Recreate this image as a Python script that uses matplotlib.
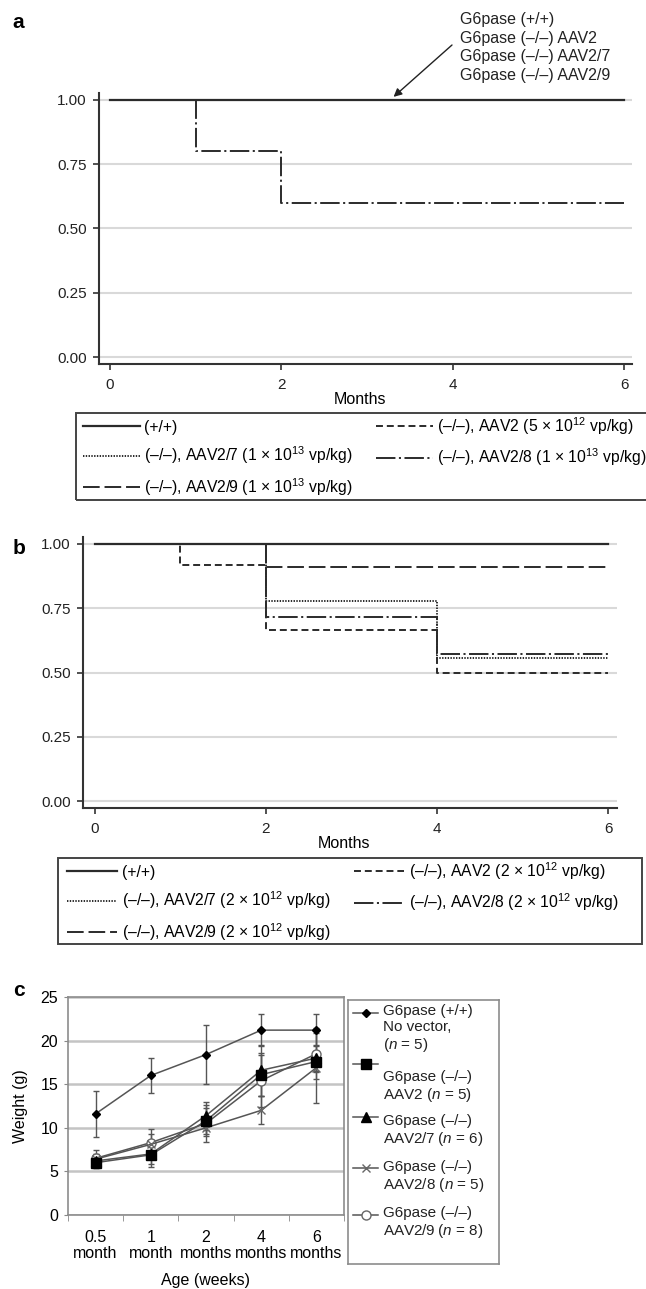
import matplotlib
matplotlib.use("Agg")
import matplotlib.pyplot as plt
from matplotlib.patches import Rectangle
import numpy as np

plt.rcParams['font.family'] = ['Liberation Sans', 'DejaVu Sans']
plt.rcParams['mathtext.fontset'] = 'custom'
plt.rcParams['mathtext.rm'] = 'Liberation Sans'
plt.rcParams['mathtext.it'] = 'Liberation Sans:italic'
plt.rcParams['lines.scale_dashes'] = False

# ---- panel a: survival, high dose ----
a_wt_x, a_wt_y = [0, 6], [1.0, 1.0]
a_aav2_x, a_aav2_y = [0, 6], [1.0, 1.0]
a_aav27_x, a_aav27_y = [0, 6], [1.0, 1.0]
a_aav28_x, a_aav28_y = [0, 1, 2, 6], [1.0, 0.8, 0.6, 0.6]
a_aav29_x, a_aav29_y = [0, 6], [1.0, 1.0]
a_labels = ['(+/+)',
            '(\u2013/\u2013), AAV2 (5 \u00d7 10$^{12}$ vp/kg)',
            '(\u2013/\u2013), AAV2/7 (1 \u00d7 10$^{13}$ vp/kg)',
            '(\u2013/\u2013), AAV2/8 (1 \u00d7 10$^{13}$ vp/kg)',
            '(\u2013/\u2013), AAV2/9 (1 \u00d7 10$^{13}$ vp/kg)']
a_note = ['G6pase (+/+)', 'G6pase (\u2013/\u2013) AAV2',
          'G6pase (\u2013/\u2013) AAV2/7', 'G6pase (\u2013/\u2013) AAV2/9']

# ---- panel b: survival, low dose ----
b_wt_x, b_wt_y = [0, 6], [1.0, 1.0]
b_aav2_x, b_aav2_y = [0, 1, 2, 4, 6], [1.0, 0.917, 0.667, 0.5, 0.5]
b_aav27_x, b_aav27_y = [0, 2, 4, 6], [1.0, 0.778, 0.556, 0.556]
b_aav28_x, b_aav28_y = [0, 2, 4, 6], [1.0, 0.714, 0.571, 0.571]
b_aav29_x, b_aav29_y = [0, 2, 6], [1.0, 0.909, 0.909]
b_labels = ['(+/+)',
            '(\u2013/\u2013), AAV2 (2 \u00d7 10$^{12}$ vp/kg)',
            '(\u2013/\u2013), AAV2/7 (2 \u00d7 10$^{12}$ vp/kg)',
            '(\u2013/\u2013), AAV2/8 (2 \u00d7 10$^{12}$ vp/kg)',
            '(\u2013/\u2013), AAV2/9 (2 \u00d7 10$^{12}$ vp/kg)']

# ---- panel c: body weight ----
ages = ['0.5\nmonth', '1\nmonth', '2\nmonths', '4\nmonths', '6\nmonths']
wt_mean = [11.6, 16.0, 18.4, 21.2, 21.2]
wt_err = [2.6, 2.0, 3.4, 1.8, 1.8]
aav2_mean = [6.0, 6.9, 10.8, 16.1, 17.6]
aav2_err = [0.6, 1.0, 1.5, 2.5, 1.2]
aav27_mean = [6.2, 7.0, 11.4, 16.6, 18.0]
aav27_err = [0.8, 1.5, 1.6, 2.9, 1.5]
aav28_mean = [6.4, 8.1, 10.0, 12.0, 16.9]
aav28_err = [0.6, 1.2, 0.9, 1.6, 4.0]
aav29_mean = [6.5, 8.3, 10.5, 15.4, 18.5]
aav29_err = [1.0, 1.6, 2.1, 3.0, 2.9]
c_labels = ['G6pase (+/+)\nNo vector,\n($n$ = 5)',
            'G6pase (\u2013/\u2013)\nAAV2 ($n$ = 5)',
            'G6pase (\u2013/\u2013)\nAAV2/7 ($n$ = 6)',
            'G6pase (\u2013/\u2013)\nAAV2/8 ($n$ = 5)',
            'G6pase (\u2013/\u2013)\nAAV2/9 ($n$ = 8)']

W, H = 646, 1289
fig = plt.figure(figsize=(W / 100, H / 100), dpi=100)

LC = '#2b2b2b'
styles = {'wt': '-', 'aav2': (0, (5, 2.8)), 'aav27': (0, (1, 1)),
          'aav28': (0, (14, 2.5, 1.5, 2.5)), 'aav29': (0, (12, 3.5))}


def px_axes(l, t, r, b):
    return fig.add_axes([l / W, 1 - b / H, (r - l) / W, (b - t) / H])


def km_style(ax):
    for s in ['top', 'right']:
        ax.spines[s].set_visible(False)
    for s in ['left', 'bottom']:
        ax.spines[s].set_color('#333333')
        ax.spines[s].set_linewidth(1.5)
    ax.set_ylim(-0.027, 1.027)
    ax.set_yticks([0, 0.25, 0.5, 0.75, 1.0])
    ax.set_yticklabels(['0.00', '0.25', '0.50', '0.75', '1.00'])
    ax.set_xticks([0, 2, 4, 6])
    ax.tick_params(axis='both', labelsize=11, color='#333333', width=1.2,
                   length=4, colors='#222222')
    ax.tick_params(axis='y', pad=5)
    ax.tick_params(axis='x', pad=6)
    ax.yaxis.grid(True, color='#d9d9d9', lw=1.5)
    ax.set_axisbelow(True)
    ax.set_xlabel('Months', fontsize=11.5)


def km_legend(handles, labels, hx, l, t, r, b, hlen):
    # legend content without frame, frame drawn as a separate box
    leg = fig.legend(handles=handles, labels=labels, loc='upper left',
                     bbox_to_anchor=(hx / W, 1 - (t + 2) / H),
                     ncol=2, fontsize=11.3, frameon=False,
                     borderaxespad=0, borderpad=0, handlelength=hlen,
                     handletextpad=0.3, labelspacing=0.62, columnspacing=1.5)
    fig.patches.append(Rectangle((l / W, 1 - b / H), (r - l) / W, (b - t) / H,
                                 transform=fig.transFigure, fill=False,
                                 edgecolor='#444444', lw=1.4))
    return leg


# ---------------- panel a ----------------
ax_a = px_axes(99, 93, 632, 364)
la2 = ax_a.step(a_aav2_x, a_aav2_y, where='post', color=LC, lw=1.4, ls=styles['aav2'])[0]
la27 = ax_a.step(a_aav27_x, a_aav27_y, where='post', color=LC, lw=1.4, ls=styles['aav27'])[0]
la29 = ax_a.step(a_aav29_x, a_aav29_y, where='post', color=LC, lw=1.4, ls=styles['aav29'])[0]
la28 = ax_a.step(a_aav28_x, a_aav28_y, where='post', color=LC, lw=1.4, ls=styles['aav28'])[0]
lawt = ax_a.step(a_wt_x, a_wt_y, where='post', color=LC, lw=1.6, ls=styles['wt'], zorder=5)[0]
ax_a.set_xlim(-0.128, 6.093)
km_style(ax_a)
ax_a.xaxis.set_label_coords(0.49, -0.105)
km_legend([lawt, la27, la29, la2, la28],
          [a_labels[0], a_labels[2], a_labels[4], a_labels[1], a_labels[3]],
          83, 76, 413, 662, 500, 3.6)

fig.text(460 / W, 1 - 12 / H, '\n'.join(a_note), fontsize=11.5, va='top', ha='left',
         linespacing=1.3, color='#222222')
ax_a.annotate('', xy=(3.31, 1.012), xytext=(452 / W, 1 - 45 / H),
              textcoords='figure fraction',
              arrowprops=dict(arrowstyle='-|>', color='#222222', lw=1.0,
                              shrinkA=0, shrinkB=0, mutation_scale=12))

# ---------------- panel b ----------------
ax_b = px_axes(83, 537, 617, 808)
lb2 = ax_b.step(b_aav2_x, b_aav2_y, where='post', color=LC, lw=1.4, ls=styles['aav2'])[0]
lb27 = ax_b.step(b_aav27_x, b_aav27_y, where='post', color=LC, lw=1.4, ls=styles['aav27'])[0]
lb28 = ax_b.step(b_aav28_x, b_aav28_y, where='post', color=LC, lw=1.4, ls=styles['aav28'])[0]
lb29 = ax_b.step(b_aav29_x, b_aav29_y, where='post', color=LC, lw=1.4, ls=styles['aav29'])[0]
lbwt = ax_b.step(b_wt_x, b_wt_y, where='post', color=LC, lw=1.6, ls=styles['wt'], zorder=5)[0]
ax_b.set_xlim(-0.14, 6.105)
km_style(ax_b)
ax_b.xaxis.set_label_coords(0.489, -0.105)
km_legend([lbwt, lb27, lb29, lb2, lb28],
          [b_labels[0], b_labels[2], b_labels[4], b_labels[1], b_labels[3]],
          67, 58, 858, 642, 944, 3.2)

# ---------------- panel c ----------------
ax_c = px_axes(68, 997, 344, 1215)
x = np.arange(len(ages))
GC = '#555555'
c_series = [
    (aav29_mean, aav29_err, dict(marker='o', ms=6.5, mfc='white', mec='#666666', mew=1.0)),
    (aav28_mean, aav28_err, dict(marker='x', ms=6, mec='#666666', mew=1.0)),
    (aav27_mean, aav27_err, dict(marker='^', ms=6.5, mfc='black', mec='black')),
    (aav2_mean, aav2_err, dict(marker='s', ms=7, mfc='black', mec='black')),
    (wt_mean, wt_err, dict(marker='D', ms=4.5, mfc='black', mec='black')),
]
for m, e, kw in c_series:
    ax_c.errorbar(x, m, yerr=e, color=GC, lw=1.1, ecolor=GC, elinewidth=1.0,
                  capsize=2.5, capthick=1.0, **kw)
ax_c.set_xlim(-0.5, 4.5)
ax_c.set_ylim(0, 25)
ax_c.set_yticks([0, 5, 10, 15, 20, 25])
ax_c.set_xticks(x)
ax_c.set_xticklabels(ages, fontsize=11.5, linespacing=1.05)
ax_c.set_xticks(np.arange(-0.5, 5, 1), minor=True)
ax_c.tick_params(axis='x', which='major', length=0, pad=11)
ax_c.tick_params(axis='x', which='minor', length=4, color='#888888')
ax_c.tick_params(axis='y', length=3, color='#888888', labelsize=11.5, pad=4)
ax_c.yaxis.grid(True, color='#c4c4c4', lw=1.8)
ax_c.set_axisbelow(True)
for s in ax_c.spines.values():
    s.set_color('#8c8c8c')
    s.set_linewidth(1.2)
ax_c.set_ylabel('Weight (g)', fontsize=11.5)
ax_c.yaxis.set_label_coords(-0.145, 0.5)
ax_c.set_xlabel('Age (weeks)', fontsize=11.5)
ax_c.xaxis.set_label_coords(0.5, -0.265)

# legend box for panel c (drawn in a pixel-scaled box)
lax = px_axes(348, 1000, 499, 1264)
lax.set_xlim(348, 499)
lax.set_ylim(1264, 1000)
lax.set_xticks([])
lax.set_yticks([])
for s in lax.spines.values():
    s.set_color('#8c8c8c')
    s.set_linewidth(1.2)
handle_y = [1013, 1064, 1117, 1168, 1215]
text_y = [1013, 1079, 1123, 1169, 1215]
for (m, e, kw), hy, ty, lab in zip(c_series[::-1], handle_y, text_y, c_labels):
    lax.plot([353, 365.5, 378], [hy, hy, hy], color=GC, lw=1.1, markevery=[1], **kw)
    lax.text(383, ty - 9, lab, fontsize=11, va='top', ha='left',
             linespacing=1.15, color='#222222')

# panel letters
for letter, (lx, ly) in zip(['a', 'b', 'c'], [(18, 22), (19, 548), (19, 990)]):
    fig.text(lx / W, 1 - ly / H, letter, fontsize=15, fontweight='bold',
             ha='center', va='center')

fig.savefig('out.png', dpi=100)
